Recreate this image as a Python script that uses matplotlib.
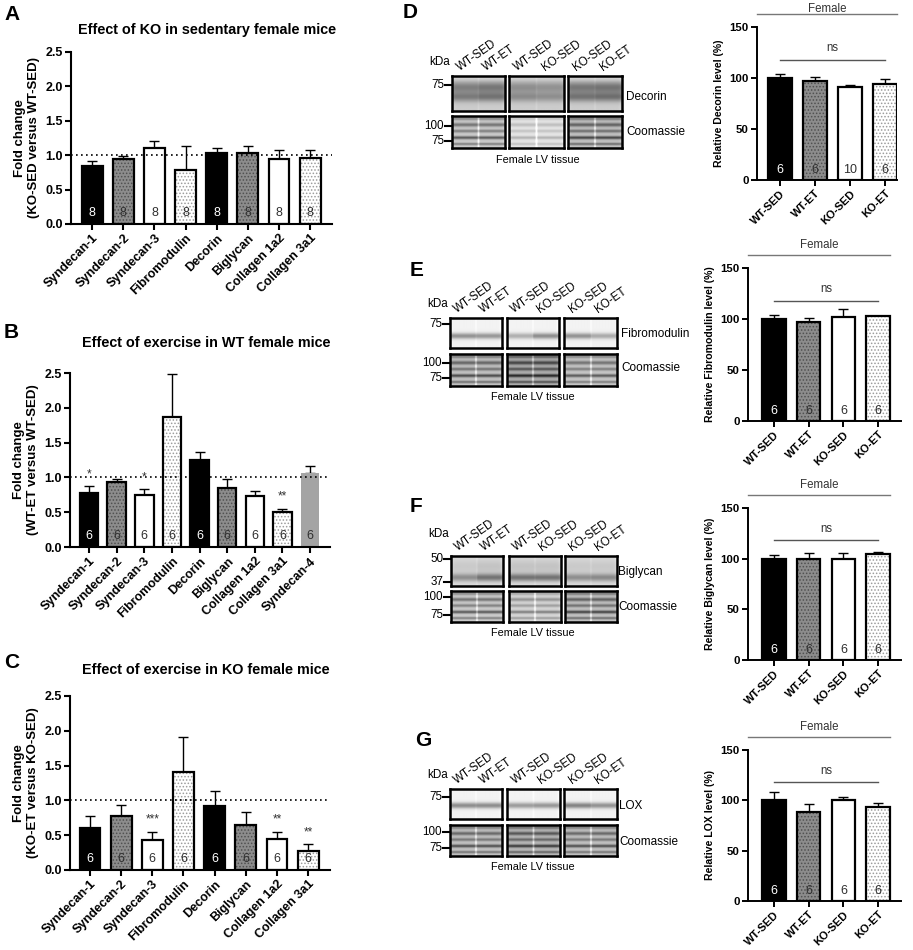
import numpy as np
import matplotlib
matplotlib.use('Agg')
import matplotlib.pyplot as plt
import matplotlib.transforms as mtransforms

plt.rcParams['font.family'] = ['Liberation Sans', 'DejaVu Sans']
plt.rcParams['hatch.linewidth'] = 0.7

# ---------------- data ----------------
a_genes = ["Syndecan-1", "Syndecan-2", "Syndecan-3", "Fibromodulin", "Decorin",
           "Biglycan", "Collagen 1a2", "Collagen 3a1"]
a_vals = [0.85, 0.94, 1.10, 0.78, 1.03, 1.03, 0.95, 0.96]
a_sems = [0.06, 0.05, 0.10, 0.36, 0.07, 0.11, 0.12, 0.12]
a_n = [8, 8, 8, 8, 8, 8, 8, 8]
a_sig = ["", "", "", "", "", "", "", ""]

b_genes = ["Syndecan-1", "Syndecan-2", "Syndecan-3", "Fibromodulin", "Decorin",
           "Biglycan", "Collagen 1a2", "Collagen 3a1", "Syndecan-4"]
b_vals = [0.78, 0.93, 0.74, 1.87, 1.25, 0.85, 0.73, 0.51, 1.07]
b_sems = [0.09, 0.04, 0.09, 0.61, 0.12, 0.13, 0.08, 0.04, 0.10]
b_n = [6, 6, 6, 6, 6, 6, 6, 6, 6]
b_sig = ["*", "", "*", "", "", "", "", "**", ""]

c_genes = ["Syndecan-1", "Syndecan-2", "Syndecan-3", "Fibromodulin", "Decorin",
           "Biglycan", "Collagen 1a2", "Collagen 3a1"]
c_vals = [0.61, 0.78, 0.43, 1.41, 0.92, 0.64, 0.44, 0.28]
c_sems = [0.17, 0.16, 0.12, 0.50, 0.21, 0.19, 0.11, 0.09]
c_n = [6, 6, 6, 6, 6, 6, 6, 6]
c_sig = ["", "", "***", "", "", "", "**", "**"]

groups = ["WT-SED", "WT-ET", "KO-SED", "KO-ET"]
d_vals = [100, 97, 91, 94]
d_sems = [4, 4, 2, 5]
d_n = [6, 6, 10, 6]
e_vals = [100, 97, 102, 102.5]
e_sems = [4, 4, 8, 0.6]
e_n = [6, 6, 6, 6]
f_vals = [100, 99.5, 99.5, 105]
f_sems = [4, 6, 6, 1.5]
f_n = [6, 6, 6, 6]
g_vals = [100, 88.5, 100.5, 93.5]
g_sems = [8.5, 7.5, 2.5, 3.5]
g_n = [6, 6, 6, 6]

lane_groups = [["WT-SED", "WT-ET"], ["WT-SED", "KO-SED"], ["KO-SED", "KO-ET"]]

# ---------------- styles ----------------
STYLES = {
    'black': dict(face='black', hatch=None, hcol='black', edge='black', num='white'),
    'greydot': dict(face='#8c8c8c', hatch='.....', hcol='#505050', edge='black', num='#303030'),
    'white': dict(face='white', hatch=None, hcol='white', edge='black', num='#303030'),
    'whitedot': dict(face='white', hatch='.....', hcol='#9c9c9c', edge='black', num='#303030'),
    'lightgrey': dict(face='#a4a4a4', hatch=None, hcol='#a4a4a4', edge='none', num='#303030'),
}
gene_styles = ['black', 'greydot', 'white', 'whitedot', 'black', 'greydot', 'white', 'whitedot', 'lightgrey']
group_styles = ['black', 'greydot', 'white', 'whitedot']

W, H = 913, 950
fig = plt.figure(figsize=(W / 100, H / 100), dpi=100)


def px_axes(l, t, r, b):
    return fig.add_axes([l / W, 1 - b / H, (r - l) / W, (b - t) / H])


def ftxt(x, y, s, **kw):
    fig.text(x / W, 1 - y / H, s, **kw)


def draw_bars(ax, vals, sems, ns, styles, width, lw, numsize, sig=None, sigsize=8.5):
    trans = mtransforms.blended_transform_factory(ax.transData, ax.transAxes)
    for i, (v, s, n, st) in enumerate(zip(vals, sems, ns, styles)):
        S = STYLES[st]
        ax.errorbar([i], [v], yerr=[[0], [s]], fmt='none', ecolor='black',
                    elinewidth=1.0, capsize=3.5, capthick=1.0, zorder=1)
        ax.bar(i, v, width, color=S['face'], edgecolor=S['hcol'], linewidth=0,
               hatch=S['hatch'], zorder=2)
        if S['edge'] != 'none':
            ax.bar(i, v, width, fill=False, edgecolor=S['edge'], linewidth=lw, zorder=3)
        ax.text(i, 0.065, str(n), transform=trans, ha='center', va='center',
                fontsize=numsize, color=S['num'], zorder=5)
        if sig and sig[i]:
            ax.text(i, v + s + 0.09, sig[i], ha='center', va='bottom',
                    fontsize=sigsize, color='#333333', zorder=5)


def style_axes(ax, lw=1.5, tl=4):
    for sp in ['top', 'right']:
        ax.spines[sp].set_visible(False)
    for sp in ['left', 'bottom']:
        ax.spines[sp].set_linewidth(lw)
    ax.tick_params(axis='both', direction='out', length=tl, width=lw, pad=2)


# ---------------- left panels ----------------
left_specs = [
    ("A", "Effect of KO in sedentary female mice", "(KO-SED versus WT-SED)",
     a_genes, a_vals, a_sems, a_n, a_sig, (71, 52, 332, 224), (-0.68, 7.7), 30, 15),
    ("B", "Effect of exercise in WT female mice", "(WT-ET versus WT-SED)",
     b_genes, b_vals, b_sems, b_n, b_sig, (70, 373, 330, 547), (-0.69, 8.72), 343, 333),
    ("C", "Effect of exercise in KO female mice", "(KO-ET versus KO-SED)",
     c_genes, c_vals, c_sems, c_n, c_sig, (70, 696, 330, 870), (-0.64, 7.7), 670, 662),
]
for letter, title, ylab2, genes, vals, sems, ns, sig, box, xl, ty, ly in left_specs:
    ax = px_axes(*box)
    draw_bars(ax, vals, sems, ns, gene_styles[:len(vals)], 0.67, 1.6, 9, sig)
    ax.axhline(1.0, ls=(0, (1, 2)), color='black', lw=1.2, zorder=4)
    ax.set_xlim(*xl)
    ax.set_ylim(0, 2.5)
    ticks = [0.0, 0.5, 1.0, 1.5, 2.0, 2.5]
    ax.set_yticks(ticks, [f"{t:.1f}" for t in ticks], fontweight='bold', fontsize=9)
    ax.set_xticks(range(len(genes)), genes, rotation=45, ha='right',
                  rotation_mode='anchor', fontweight='bold', fontsize=9)
    ax.set_ylabel("Fold change\n" + ylab2, fontweight='bold', fontsize=9.5,
                  linespacing=1.15, labelpad=4)
    style_axes(ax)
    ftxt((box[0] + box[2]) / 2 + 6, ty, title, ha='center', va='center',
         fontweight='bold', fontsize=10.4)
    ftxt(4, ly, letter, ha='left', va='center', fontweight='bold', fontsize=15)

# ---------------- right panels ----------------
right_specs = [
    ("D", "Relative Decorin level (%)", d_vals, d_sems, d_n, (757, 27, 897, 180), (-0.66, 3.34), 403, 12, 168),
    ("E", "Relative Fibromodulin level (%)", e_vals, e_sems, e_n, (748, 268, 901, 421), (-0.75, 3.66), 410, 270, 173),
    ("F", "Relative Biglycan level (%)", f_vals, f_sems, f_n, (748, 508, 901, 660), (-0.75, 3.66), 410, 507, 173),
    ("G", "Relative LOX level (%)", g_vals, g_sems, g_n, (748, 750, 901, 901), (-0.75, 3.66), 415, 740, 173),
]
for letter, ylab, vals, sems, ns, box, xl, lx, ly, fy in right_specs:
    ax = px_axes(*box)
    draw_bars(ax, vals, sems, ns, group_styles, 0.67, 1.6, 9)
    ax.set_xlim(*xl)
    ax.set_ylim(0, 150)
    ax.set_yticks([0, 50, 100, 150], ["0", "50", "100", "150"], fontweight='bold', fontsize=8.2)
    ax.set_xticks(range(len(groups)), groups, rotation=45, ha='right',
                  rotation_mode='anchor', fontweight='bold', fontsize=8)
    ax.set_ylabel(ylab, fontweight='bold', fontsize=7.6, labelpad=4)
    style_axes(ax, lw=1.4, tl=4)
    ax.plot([xl[0], 3.34], [163, 163], color='#777777', lw=1.0, clip_on=False)
    ax.text((xl[0] + 3.34) / 2, fy, "Female", ha='center', va='center', fontsize=8.3,
            color='#333333', clip_on=False)
    ax.plot([0, 3], [118, 118], color='#555555', lw=1.0)
    ax.text(1.5, 129, "ns", ha='center', va='center', fontsize=8.3, color='#333333')
    ftxt(lx, ly, letter, ha='left', va='center', fontweight='bold', fontsize=15)


# ---------------- western blot images ----------------
def band_img(bg, bands, lane_amp, gap=0.05, rows=60, cols=90, edge=0.05):
    y = np.linspace(0, 1, rows)[:, None]
    x = np.linspace(0, 1, cols)[None, :]
    lane = np.where(x < 0.5, lane_amp[0], lane_amp[1])
    prof = np.zeros((rows, 1))
    for p, s, a in bands:
        prof = prof + a * np.exp(-((y - p) / s) ** 2)
    img = bg - prof * lane
    img = img + gap * np.exp(-((x - 0.5) / 0.015) ** 2)
    img = img + edge * (np.exp(-(x / 0.04) ** 2) + np.exp(-((1 - x) / 0.04) ** 2))
    return np.clip(img, 0, 1)


def blot_box(l, t, r, b, img):
    ax = px_axes(l, t, r, b)
    ax.imshow(img, cmap='gray', vmin=0, vmax=1, aspect='auto', interpolation='bilinear')
    ax.set_xticks([])
    ax.set_yticks([])
    for sp in ax.spines.values():
        sp.set_linewidth(1.8)
    return ax


coom_bands = [(0.08, 0.05, 0.25), (0.27, 0.06, 0.35), (0.47, 0.05, 0.3),
              (0.68, 0.05, 0.45), (0.88, 0.04, 0.3)]

blot_specs = [
    dict(name="Decorin", bx=[(452, 505), (509, 564), (568, 622)], top=(76, 111), coom=(116, 148),
         kda=62, tm=[("75", 85)], cm=[("100", 126), ("75", 141)], lab=(626, 97), clab=(626, 132),
         flv=(538, 160),
         bg=0.8, bands=[(0.32, 0.17, 0.3), (0.6, 0.14, 0.3), (0.05, 0.08, -0.05)],
         amps=[(1.0, 1.1), (0.8, 0.75), (1.1, 1.15)], cbg=[0.8, 0.9, 0.76], camp=[1.0, 0.45, 1.1]),
    dict(name="Fibromodulin", bx=[(450, 502), (507, 559), (564, 617)], top=(318, 348), coom=(354, 386),
         kda=304, tm=[("75", 324)], cm=[("100", 363), ("75", 378)], lab=(621, 334), clab=(621, 368),
         flv=(533, 397),
         bg=0.95, bands=[(0.6, 0.1, 0.38)],
         amps=[(1.0, 0.95), (0.7, 1.05), (1.0, 0.75)], cbg=[0.76, 0.68, 0.78], camp=[1.05, 1.2, 0.95]),
    dict(name="Biglycan", bx=[(451, 503), (509, 561), (565, 617)], top=(556, 586), coom=(591, 622),
         kda=534, tm=[("50", 559), ("37", 582)], cm=[("100", 597), ("75", 615)], lab=(618, 572),
         clab=(618, 607), flv=(533, 633),
         bg=0.86, bands=[(0.72, 0.13, 0.35), (0.35, 0.25, 0.08)],
         amps=[(0.85, 1.15), (1.15, 1.15), (0.85, 0.9)], cbg=[0.8, 0.84, 0.76], camp=[1.0, 0.75, 1.1]),
    dict(name="LOX", bx=[(450, 502), (507, 560), (564, 617)], top=(789, 819), coom=(825, 856),
         kda=775, tm=[("75", 797)], cm=[("100", 832), ("75", 848)], lab=(619, 806), clab=(619, 842),
         flv=(533, 867),
         bg=0.95, bands=[(0.55, 0.1, 0.4)],
         amps=[(1.0, 1.0), (0.85, 0.9), (1.1, 0.95)], cbg=[0.76, 0.72, 0.76], camp=[1.0, 1.1, 1.0]),
]

for sp in blot_specs:
    for k, (l, r) in enumerate(sp['bx']):
        blot_box(l, sp['top'][0], r, sp['top'][1],
                 band_img(sp['bg'], sp['bands'], sp['amps'][k], gap=0.04))
        blot_box(l, sp['coom'][0], r, sp['coom'][1],
                 band_img(sp['cbg'][k], coom_bands, (sp['camp'][k], sp['camp'][k]), gap=0.3))
        for j, lane in enumerate(lane_groups[k]):
            cx = l + (r - l) * (0.25 + 0.5 * j)
            ftxt(cx - 4, sp['top'][0] - 3, lane, rotation=35, rotation_mode='anchor',
                 ha='left', va='bottom', fontsize=8.4)
    x0 = sp['bx'][0][0]
    ftxt(x0 - 2, sp['kda'], "kDa", ha='right', va='center', fontsize=8.4)
    for lab, yy in sp['tm'] + sp['cm']:
        ftxt(x0 - 8, yy, lab, ha='right', va='center', fontsize=8.4)
        fig.add_artist(plt.Line2D([(x0 - 7) / W, x0 / W], [1 - yy / H, 1 - yy / H],
                                  color='black', lw=1.5))
    ftxt(sp['lab'][0], sp['lab'][1], sp['name'], ha='left', va='center', fontsize=8.5)
    ftxt(sp['clab'][0], sp['clab'][1], "Coomassie", ha='left', va='center', fontsize=8.5)
    ftxt(sp['flv'][0], sp['flv'][1], "Female LV tissue", ha='center', va='center', fontsize=7.8)

fig.savefig("out.png", dpi=100)
